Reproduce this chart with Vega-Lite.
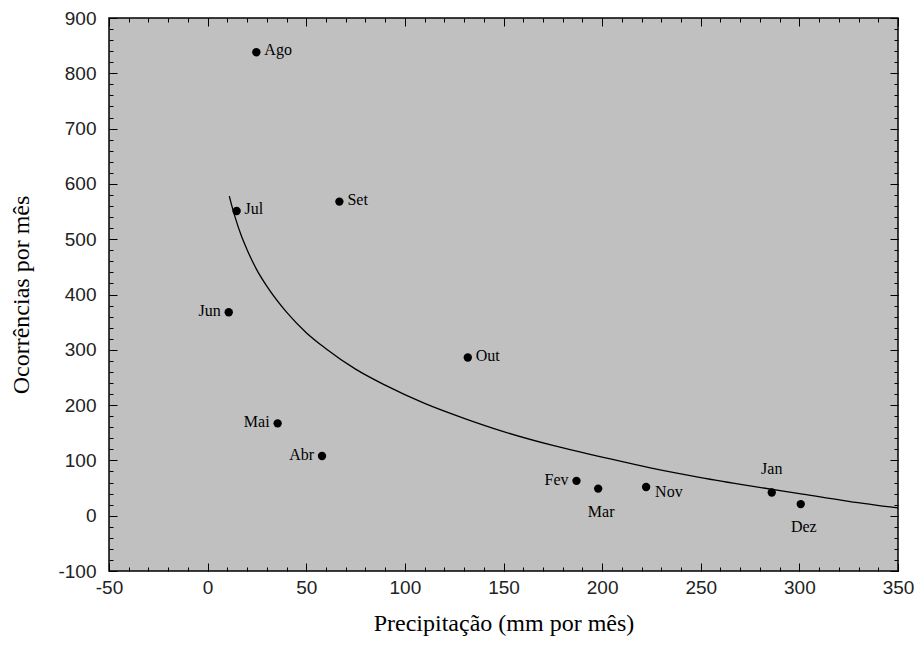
{
  "$schema": "https://vega.github.io/schema/vega-lite/v6.json",
  "width": 789,
  "height": 553,
  "autosize": "none",
  "padding": {"left": 109, "top": 18, "right": 20, "bottom": 75},
  "background": "white",
  "config": {
    "view": {"fill": "#c0c0c0", "stroke": "black", "strokeWidth": 1.5},
    "axis": {
      "labelFont": "Liberation Sans",
      "labelFontSize": 19,
      "labelColor": "#222222",
      "titleFont": "Liberation Serif",
      "titleFontSize": 24,
      "titleFontWeight": "normal",
      "titleColor": "black",
      "grid": false,
      "domain": false,
      "tickColor": "#000000",
      "tickOpacity": 1,
      "tickWidth": 1
    }
  },
  "data": {
    "values": [
      {"kind": "obs", "mes": "Jan", "precip": 286, "ocorr": 42},
      {"kind": "obs", "mes": "Fev", "precip": 187, "ocorr": 63},
      {"kind": "obs", "mes": "Mar", "precip": 198, "ocorr": 49},
      {"kind": "obs", "mes": "Abr", "precip": 58, "ocorr": 108},
      {"kind": "obs", "mes": "Mai", "precip": 35.5, "ocorr": 167},
      {"kind": "obs", "mes": "Jun", "precip": 10.7, "ocorr": 368},
      {"kind": "obs", "mes": "Jul", "precip": 14.7, "ocorr": 551},
      {"kind": "obs", "mes": "Ago", "precip": 24.7, "ocorr": 838},
      {"kind": "obs", "mes": "Set", "precip": 66.8, "ocorr": 568},
      {"kind": "obs", "mes": "Out", "precip": 131.9, "ocorr": 286},
      {"kind": "obs", "mes": "Nov", "precip": 222.3, "ocorr": 52},
      {"kind": "obs", "mes": "Dez", "precip": 300.7, "ocorr": 21},
      {"kind": "fit", "precip": 11, "ocorr": 578},
      {"kind": "fit", "precip": 12, "ocorr": 564},
      {"kind": "fit", "precip": 14, "ocorr": 539},
      {"kind": "fit", "precip": 17, "ocorr": 507},
      {"kind": "fit", "precip": 20, "ocorr": 481},
      {"kind": "fit", "precip": 25, "ocorr": 444},
      {"kind": "fit", "precip": 30, "ocorr": 415},
      {"kind": "fit", "precip": 40, "ocorr": 368},
      {"kind": "fit", "precip": 50, "ocorr": 331},
      {"kind": "fit", "precip": 60, "ocorr": 302},
      {"kind": "fit", "precip": 75, "ocorr": 265},
      {"kind": "fit", "precip": 90, "ocorr": 236},
      {"kind": "fit", "precip": 110, "ocorr": 203},
      {"kind": "fit", "precip": 130, "ocorr": 176},
      {"kind": "fit", "precip": 150, "ocorr": 152},
      {"kind": "fit", "precip": 175, "ocorr": 127},
      {"kind": "fit", "precip": 200, "ocorr": 106},
      {"kind": "fit", "precip": 225, "ocorr": 86},
      {"kind": "fit", "precip": 250, "ocorr": 69},
      {"kind": "fit", "precip": 275, "ocorr": 54},
      {"kind": "fit", "precip": 300, "ocorr": 40},
      {"kind": "fit", "precip": 325, "ocorr": 26},
      {"kind": "fit", "precip": 350, "ocorr": 14}
    ]
  },
  "resolve": {"axis": {"x": "independent", "y": "independent"}},
  "layer": [
    {
      "transform": [{"filter": "datum.kind === 'fit'"}],
      "mark": {"type": "line", "color": "black", "strokeWidth": 1.3, "interpolate": "monotone"},
      "encoding": {
        "x": {
          "field": "precip", "type": "quantitative",
          "scale": {"domain": [-50, 350], "nice": false},
          "axis": {
            "orient": "bottom",
            "title": "Precipitação (mm por mês)",
            "titlePadding": 14,
            "tickCount": 8,
            "labelExpr": "'' + datum.value",
            "labelFlush": false,
            "labelOverlap": false,
            "tickSize": 8,
            "offset": -8,
            "zindex": 1,
            "labelPadding": 7
          }
        },
        "y": {
          "field": "ocorr", "type": "quantitative",
          "scale": {"domain": [-100, 900], "nice": false},
          "axis": {
            "orient": "left",
            "title": "Ocorrências por mês",
            "titlePadding": 24,
            "tickCount": 10,
            "labelExpr": "'' + datum.value",
            "labelOverlap": false,
            "tickSize": 8,
            "offset": -8,
            "zindex": 1,
            "labelPadding": 13
          }
        }
      }
    },
    {
      "transform": [{"filter": "datum.kind === 'obs'"}],
      "mark": {"type": "circle", "color": "black", "opacity": 1, "size": 70},
      "encoding": {
        "x": {"field": "precip", "type": "quantitative", "axis": {"orient": "top", "title": null, "labels": false, "offset": -4, "tickSize": 4, "tickCount": 40, "zindex": 1}},
        "y": {"field": "ocorr", "type": "quantitative", "axis": {"orient": "right", "title": null, "labels": false, "offset": -4, "tickSize": 4, "tickCount": 50, "zindex": 1}}
      }
    },
    {
      "transform": [{"filter": {"field": "mes", "oneOf": ["Ago", "Jul", "Set", "Out"]}}],
      "mark": {"type": "text", "align": "left", "baseline": "middle", "dx": 8, "dy": -2, "font": "Liberation Serif", "fontSize": 16, "color": "black"},
      "encoding": {
        "x": {"field": "precip", "type": "quantitative", "axis": {"orient": "bottom", "title": null, "labels": false, "offset": -4, "tickSize": 4, "tickCount": 40, "zindex": 1}},
        "y": {"field": "ocorr", "type": "quantitative", "axis": {"orient": "left", "title": null, "labels": false, "offset": -4, "tickSize": 4, "tickCount": 50, "zindex": 1}},
        "text": {"field": "mes"}
      }
    },
    {
      "transform": [{"filter": {"field": "mes", "oneOf": ["Nov"]}}],
      "mark": {"type": "text", "align": "left", "baseline": "middle", "dx": 9, "dy": 5, "font": "Liberation Serif", "fontSize": 16, "color": "black"},
      "encoding": {
        "x": {"field": "precip", "type": "quantitative", "axis": {"orient": "top", "title": null, "labels": false, "offset": -8, "tickSize": 8, "tickCount": 8, "zindex": 1}},
        "y": {"field": "ocorr", "type": "quantitative", "axis": {"orient": "right", "title": null, "labels": false, "offset": -8, "tickSize": 8, "tickCount": 10, "zindex": 1}},
        "text": {"field": "mes"}
      }
    },
    {
      "transform": [{"filter": {"field": "mes", "oneOf": ["Jun", "Mai", "Abr", "Fev"]}}],
      "mark": {"type": "text", "align": "right", "baseline": "middle", "dx": -8, "dy": -1, "font": "Liberation Serif", "fontSize": 16, "color": "black"},
      "encoding": {
        "x": {"field": "precip", "type": "quantitative", "axis": null},
        "y": {"field": "ocorr", "type": "quantitative", "axis": null},
        "text": {"field": "mes"}
      }
    },
    {
      "transform": [{"filter": {"field": "mes", "oneOf": ["Mar", "Dez"]}}],
      "mark": {"type": "text", "align": "center", "baseline": "middle", "dx": 3, "dy": 23, "font": "Liberation Serif", "fontSize": 16, "color": "black"},
      "encoding": {
        "x": {"field": "precip", "type": "quantitative", "axis": null},
        "y": {"field": "ocorr", "type": "quantitative", "axis": null},
        "text": {"field": "mes"}
      }
    },
    {
      "transform": [{"filter": {"field": "mes", "oneOf": ["Jan"]}}],
      "mark": {"type": "text", "align": "center", "baseline": "middle", "dx": 0, "dy": -23, "font": "Liberation Serif", "fontSize": 16, "color": "black"},
      "encoding": {
        "x": {"field": "precip", "type": "quantitative", "axis": null},
        "y": {"field": "ocorr", "type": "quantitative", "axis": null},
        "text": {"field": "mes"}
      }
    }
  ]
}
